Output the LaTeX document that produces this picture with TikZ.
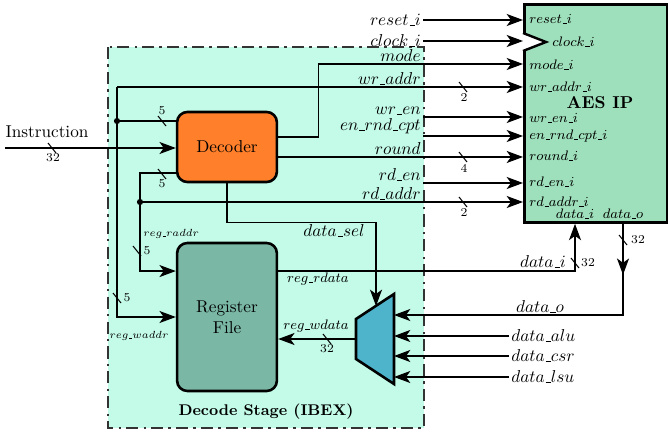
\documentclass[tikz,border=0pt]{standalone}
\usepackage{amsmath,amssymb}
\usetikzlibrary{arrows.meta}

\definecolor{stagefill}{RGB}{195,251,232}
\definecolor{aesfill}{RGB}{158,224,187}
\definecolor{decfill}{RGB}{255,127,42}
\definecolor{regfill}{RGB}{122,184,165}
\definecolor{muxfill}{RGB}{77,180,204}

\newcommand{\usc}{\kern.06em\vbox{\hrule width.3em}}

\tikzset{
  arr/.style={-{Stealth[length=9.5pt,width=7pt,inset=2.5pt]}},
  stagebox/.style={draw=black!80,fill=stagefill,line width=1.6pt,dash pattern=on 7pt off 3pt on 1.5pt off 3pt},
  blk/.style={draw,line width=1.5pt,rounded corners=6pt,align=center,minimum width=58pt},
  sig/.style={inner sep=1pt},
  port/.style={anchor=west,inner sep=1pt,font=\footnotesize},
  bwd/.style={inner sep=1pt,font=\scriptsize},
  tinylbl/.style={inner sep=1pt,font=\fontsize{6}{7}\selectfont},
  busw/.pic={\draw[line width=.6pt] (-4,-5) -- (4,5);},
}

\begin{document}
\begin{tikzpicture}[x=.581pt,y=-.581pt,line width=.7pt]
\path[use as bounding box] (0,0) rectangle (668,432);
% decode stage
\draw[stagebox] (108,47) rectangle (424,428);
\node[font=\small\bfseries] (stagelbl) at (266,412) {Decode Stage (IBEX)};
\node[blk,fill=decfill,minimum height=40.7pt] (dec) at (227,147) {Decoder};
\node[blk,fill=regfill,minimum height=86pt] (rf) at (227,317) {Register\\File};
\draw[line width=1.5pt,fill=muxfill] (356,319) -- (394,294) -- (394,384) -- (356,359) -- cycle;
\coordinate (muxout) at (356,339);
\coordinate (muxsel) at (376,306);
\coordinate (muxa) at (394,315);
\coordinate (muxb) at (394,336);
\coordinate (muxc) at (394,356);
\coordinate (muxd) at (394,377);

% aes ip
\node[draw,line width=1.6pt,fill=aesfill,anchor=north west,minimum width=83pt,minimum height=126.7pt,inner sep=0pt] (aes) at (523,3) {};
\draw[line width=1.4pt,fill=white] (523,33) -- (546,42) -- (523,51);
\node[font=\bfseries] (aesname) at (600,103) {AES IP};
\node[port] (preset) at (527,19) {$reset\usc i$};
\node[port] (pclock) at (550,42) {$clock\usc i$};
\node[port] (pmode) at (527,65) {$mode\usc i$};
\node[port] (pwraddr) at (527,87) {$wr\usc addr\usc i$};
\node[port] (pwren) at (527,118) {$wr\usc en\usc i$};
\node[port] (penrnd) at (527,136) {$en\usc rnd\usc cpt\usc i$};
\node[port] (pround) at (527,156) {$round\usc i$};
\node[port] (prden) at (527,182) {$rd\usc en\usc i$};
\node[port] (prdaddr) at (527,202) {$rd\usc addr\usc i$};
\node[font=\footnotesize,inner sep=1pt] (pdi) at (575,214) {$data\usc i$};
\node[font=\footnotesize,inner sep=1pt] (pdo) at (623,214) {$data\usc o$};

% signal names
\node[sig,anchor=east] (lreset) at (423,20) {$reset\usc i$};
\node[sig,anchor=east] (lclock) at (423,41) {$clock\usc i$};
\node[sig,anchor=south east] (lmode) at (423,64) {$mode$};
\node[sig,anchor=south east] (lwraddr) at (423,87) {$wr\usc addr$};
\node[sig,anchor=south east] (lwren) at (423,117) {$wr\usc en$};
\node[sig,anchor=south east] (lenrnd) at (423,136) {$en\usc rnd\usc cpt$};
\node[sig,anchor=south east] (lround) at (423,157) {$round$};
\node[sig,anchor=south east] (lrden) at (423,183) {$rd\usc en$};
\node[sig,anchor=south east] (lrdaddr) at (423,202) {$rd\usc addr$};
\node[sig] (lins) at (47,132) {Instruction};
\node[sig] (lsel) at (334,231) {$data\usc sel$};
\node[sig,anchor=south east] (ldi) at (568,270) {$data\usc i$};
\node[sig,anchor=south] (ldo) at (540,315) {$data\usc o$};
\node[sig,anchor=west] (lalu) at (509,336) {$data\usc alu$};
\node[sig,anchor=west] (lcsr) at (509,356) {$data\usc csr$};
\node[sig,anchor=west] (llsu) at (509,377) {$data\usc lsu$};
\node[font=\footnotesize,inner sep=1pt] (lrrdata) at (318,279) {$reg\usc rdata$};
\node[font=\footnotesize,inner sep=1pt] (lrwdata) at (316,326) {$reg\usc wdata$};
\node[tinylbl,anchor=west] (lrraddr) at (141,234) {$reg\usc raddr$};
\node[tinylbl] (lrwaddr) at (139,336) {$reg\usc waddr$};

% wires
\coordinate (ins) at (5,148);
\coordinate (wtop) at (117,87);
\coordinate (wdot) at (117,121);
\coordinate (rdot) at (140,202);
\draw[arr] (ins) -- (ins -| dec.west);
\draw[arr] (lreset.east) -- (lreset.east -| aes.west);
\draw[arr] (lclock.east) -- (lclock.east -| aes.west);
\draw[arr] ([yshift=5.8pt]dec.east) -- ++(40,0) |- (lmode.south east) -- (lmode.south east -| aes.west);
\draw[arr] (wtop) -- (wtop -| aes.west);
\draw[arr] (wtop) |- (rf.west);
\draw (wdot) -- (wdot -| dec.west);
\fill (wdot) circle (1.8pt);
\draw[arr] (lwren.south east) -- (lwren.south east -| aes.west);
\draw[arr] (lenrnd.south east) -- (lenrnd.south east -| aes.west);
\draw[arr] ([yshift=-5.8pt]dec.east) -- ([yshift=-5.8pt]dec.east -| aes.west);
\draw[arr] (lrden.south east) -- (lrden.south east -| aes.west);
\draw[arr] ([yshift=-15.1pt]dec.west) -| (rdot) |- ([yshift=26.7pt]rf.west);
\draw[arr] (rdot) -- (rdot -| aes.west);
\fill (rdot) circle (1.8pt);
\draw[arr] (dec.south) -- ++(0,39) -| (muxsel);
\draw[arr] ([yshift=26.7pt]rf.east) -| (pdi.south |- aes.south);
\draw[arr] (pdo.south |- aes.south) -- ++(0,51);
\draw[arr] (pdo.south |- aes.south) |- (muxa);
\draw[arr] (lalu.west) -- (muxb);
\draw[arr] (lcsr.west) -- (muxc);
\draw[arr] (llsu.west) -- (muxd);
\draw[arr] (muxout) -- (muxout -| rf.east);

% bus widths
\pic at (52,148) {busw};
\node[bwd] (w1) at (53,158) {32};
\pic at (162,121) {busw};
\node[bwd] (w2) at (162,111) {5};
\pic at (162,174) {busw};
\node[bwd] (w3) at (162,184) {5};
\pic at (463,87) {busw};
\node[bwd] (w4) at (464,98) {2};
\pic at (463,157) {busw};
\node[bwd] (w5) at (464,168) {4};
\pic at (463,202) {busw};
\node[bwd] (w6) at (464,212) {2};
\pic at (137,251) {busw};
\node[bwd] (w7) at (147,251) {5};
\pic at (117,298) {busw};
\node[bwd] (w8) at (127,298) {5};
\pic at (575,263) {busw};
\node[bwd] (w9) at (588,263) {32};
\pic at (623,240) {busw};
\node[bwd] (w10) at (638,240) {32};
\pic at (327,339) {busw};
\node[bwd] (w11) at (327,349) {32};
\end{tikzpicture}
\end{document}
